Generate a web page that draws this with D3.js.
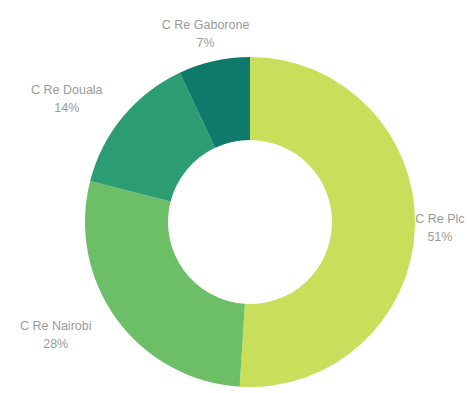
<!DOCTYPE html>
<html>
<head>
<meta charset="utf-8">
<script src="https://cdn.jsdelivr.net/npm/d3@7"></script>
<style>
  body { margin: 0; background: #fff; }
  svg { display: block; }
  .lbl { font-family: "Liberation Sans", Arial, sans-serif; font-size: 12.5px; fill: #9a9a9a; }
</style>
</head>
<body>
<svg id="donut" width="468" height="393"></svg>
<script>
// slice data
const names = ["C Re Plc", "C Re Nairobi", "C Re Douala", "C Re Gaborone"]
const shares = [51, 28, 14, 7]
const colors = ["#c8df5c", "#6cbf66", "#2c9d72", "#0f7a6c"]

let svg = d3.select("#donut")
let cx = 250, cy = 222
let outerR = 165, innerR = 82

let g = svg.append("g").attr("transform", "translate(" + cx + "," + cy + ")")

let data = names.map((n, i) => ({ name: n, value: shares[i], color: colors[i] }))
let total = d3.sum(shares)

let pie = d3.pie().sort(null).value(d => d.value)
let arc = d3.arc().innerRadius(innerR).outerRadius(outerR)

let arcs = pie(data)

g.selectAll("path.slice")
  .data(arcs)
  .enter().append("path")
    .attr("class", "slice")
    .attr("d", arc)
    .attr("fill", d => d.data.color)

// labels sit on an oval round the ring, pushed further out on the left
const labelPos = (d) => {
  let a = (d.startAngle + d.endAngle) / 2
  let s = Math.sin(a), c = Math.cos(a)
  let rx = 190 + 62 * Math.max(0, -s)
  let ry = 193
  return [rx * s, -ry * c]
}

let lbl = g.selectAll("g.lbl")
  .data(arcs)
  .enter().append("g")
    .attr("transform", d => "translate(" + labelPos(d) + ")")

lbl.append("text")
  .attr("class", "lbl")
  .attr("text-anchor", "middle")
  .attr("y", -5)
  .text(d => d.data.name)

lbl.append("text")
  .attr("class", "lbl")
  .attr("text-anchor", "middle")
  .attr("y", 13)
  .text(d => Math.round(d.data.value / total * 100) + "%")
</script>
</body>
</html>
